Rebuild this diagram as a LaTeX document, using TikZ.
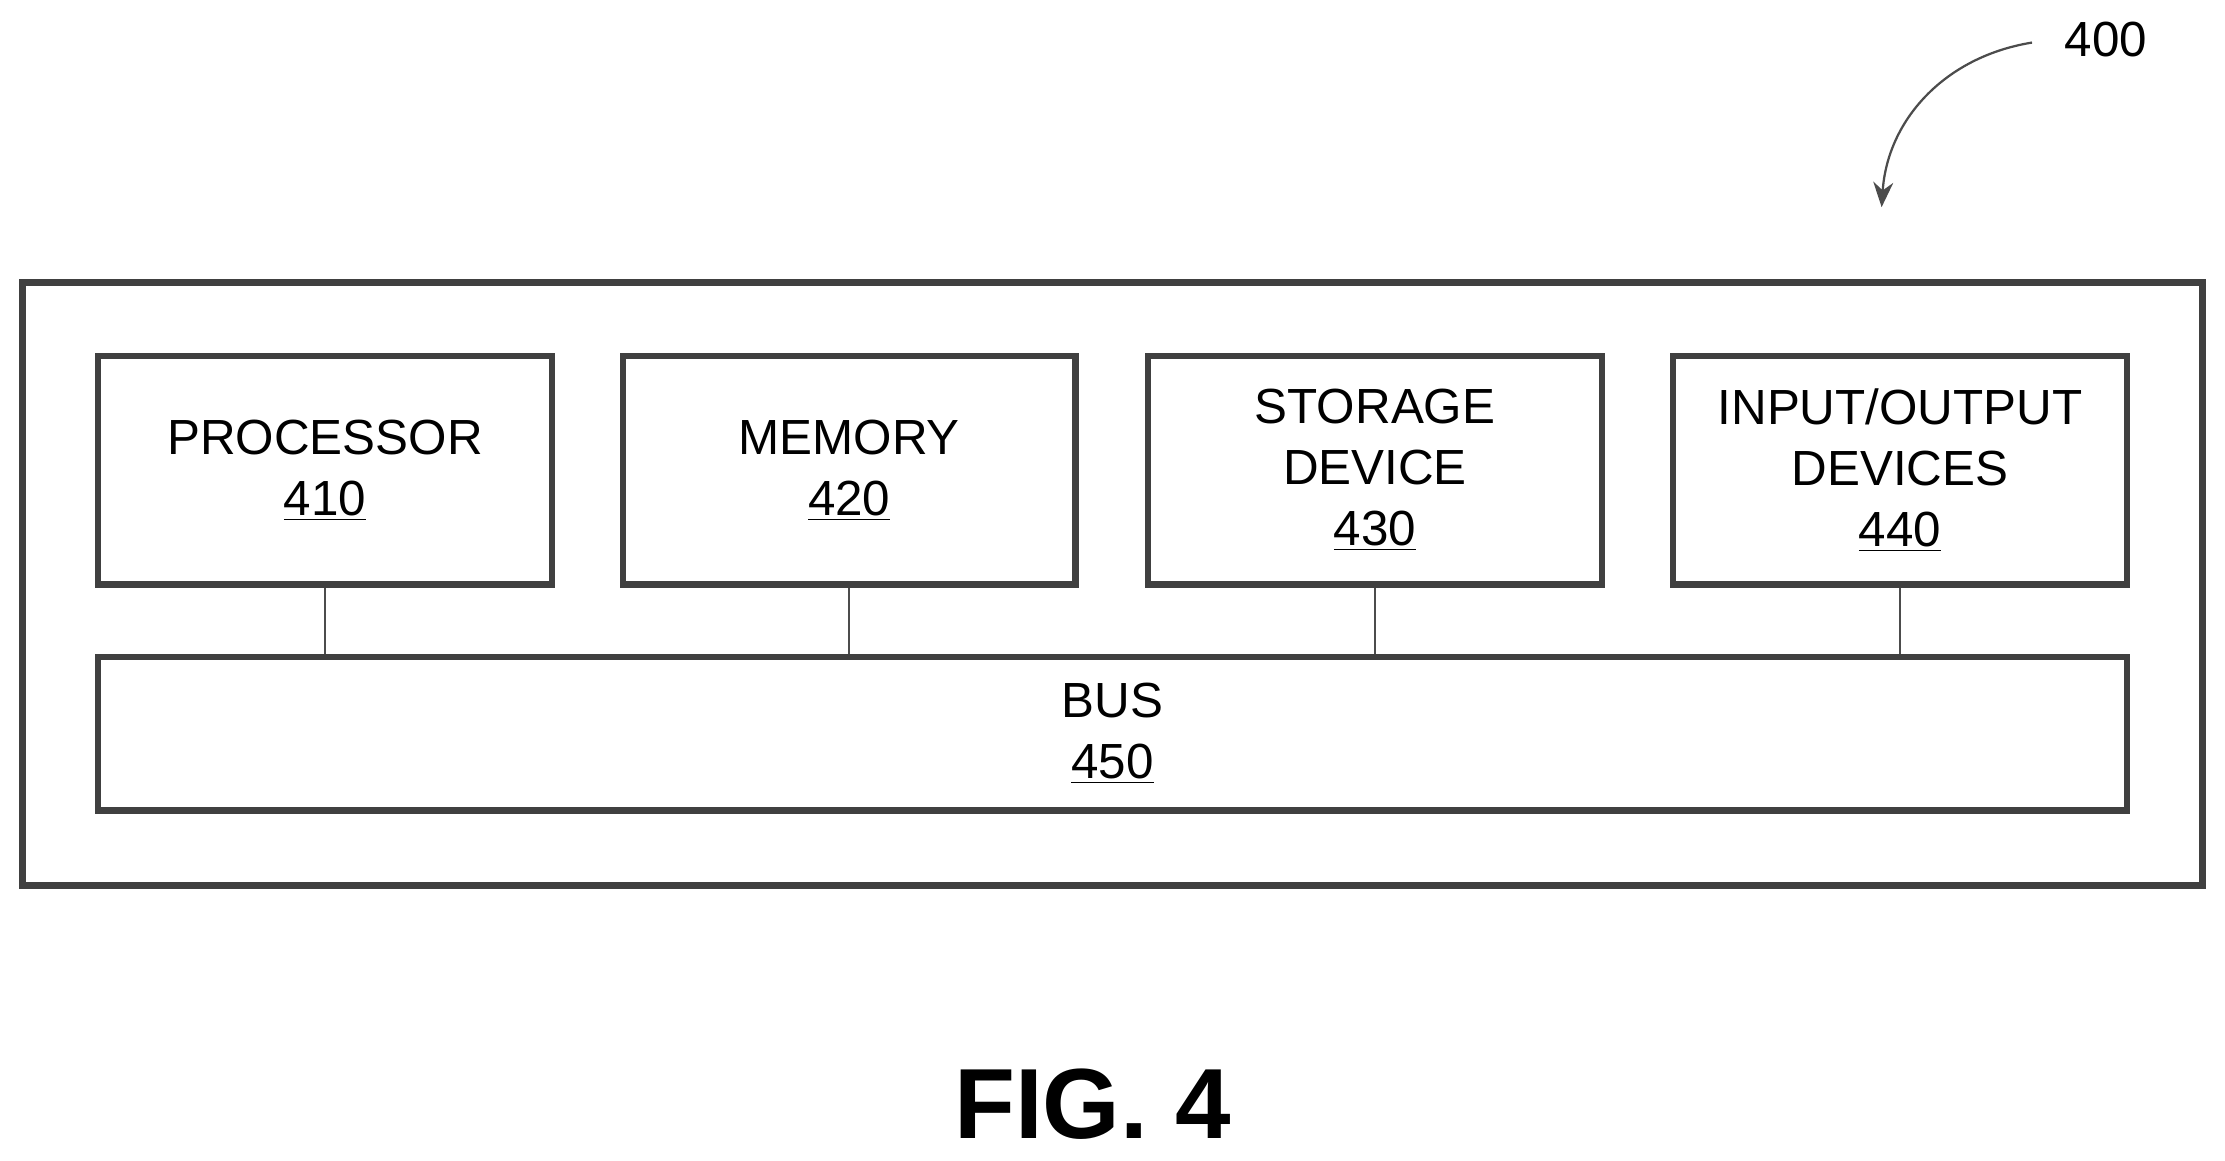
\documentclass[tikz,border=0pt]{standalone}
\usepackage{fontspec}
\setmainfont{Liberation Sans}
\usetikzlibrary{arrows.meta}
\begin{document}
\begin{tikzpicture}[x=0.02cm,y=-0.02cm,
  box/.style={draw=black!75,line width=2.6pt,inner sep=0pt,align=center,font=\fontsize{19.8}{24.5}\selectfont},
  conn/.style={draw=black!70,line width=0.9pt}]
\useasboundingbox (0,0) rectangle (1568,818);
\node[draw=black!75,line width=2.8pt,inner sep=0pt,minimum width=1536*0.02cm,minimum height=425*0.02cm] (outer) at (784,411.5) {};
\node[box,minimum width=320*0.02cm,minimum height=161*0.02cm] (p) at (229,331.5) {PROCESSOR\\\underline{410}};
\node[box,minimum width=319*0.02cm,minimum height=161*0.02cm] (m) at (598.5,331.5) {MEMORY\\\underline{420}};
\node[box,minimum width=320*0.02cm,minimum height=161*0.02cm] (s) at (969,331.5) {STORAGE\\DEVICE\\\underline{430}};
\node[box,minimum width=320*0.02cm,minimum height=161*0.02cm] (io) at (1339,331.5) {INPUT/OUTPUT\\DEVICES\\\underline{440}};
\node[box,minimum width=1430*0.02cm,minimum height=108*0.02cm] (bus) at (784,517) {BUS\\\underline{450}};
\foreach \n in {p,m,s,io} \draw[conn] (\n.south) -- (\n.south |- bus.north);
\node[font=\fontsize{19.8}{22}\selectfont] (lbl) at (1484,28) {400};
\coordinate (a0) at (1432,30);
\draw[conn,-{Stealth[length=10pt,width=8pt]}] (a0) .. controls (1370,40) and (1330,85) .. (1326,146);
\node[font=\bfseries\fontsize{40}{48}\selectfont] (fig) at (770,778) {FIG. 4};
\end{tikzpicture}
\end{document}
